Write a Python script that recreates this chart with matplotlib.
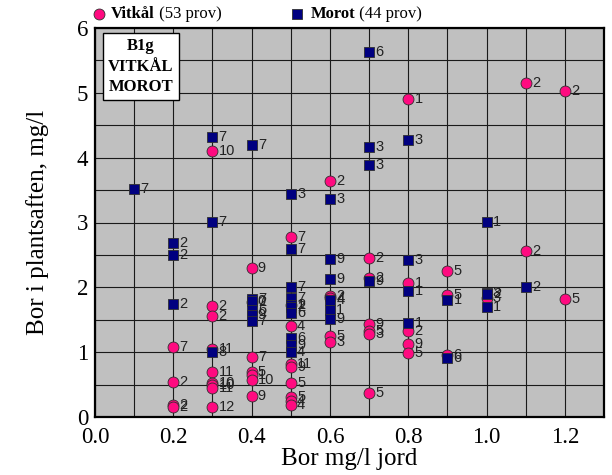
import matplotlib
matplotlib.use('Agg')
import matplotlib.pyplot as plt

# Vitkål (pink circles): bor i jord, bor i plantsaften, label
vit_x = [0.2, 0.2, 0.2, 0.2,
         0.3, 0.3, 0.3, 0.3, 0.3, 0.3, 0.3, 0.3, 0.3,
         0.4, 0.4, 0.4, 0.4, 0.4, 0.4, 0.4,
         0.5, 0.5, 0.5, 0.5, 0.5, 0.5, 0.5, 0.5, 0.5,
         0.6, 0.6, 0.6, 0.6, 0.6,
         0.7, 0.7, 0.7, 0.7, 0.7, 0.7,
         0.8, 0.8, 0.8, 0.8, 0.8,
         0.9, 0.9, 0.9,
         1.0,
         1.1, 1.1,
         1.2, 1.2]
vit_y = [1.08, 0.54, 0.19, 0.16,
         4.10, 1.71, 1.56, 1.05, 0.69, 0.53, 0.49, 0.45, 0.15,
         2.30, 1.78, 0.93, 0.70, 0.65, 0.57, 0.32,
         2.78, 1.73, 1.40, 0.82, 0.77, 0.52, 0.31, 0.24, 0.18,
         3.64, 1.87, 1.84, 1.25, 1.16,
         2.45, 2.15, 1.43, 1.32, 1.28, 0.37,
         4.90, 2.07, 1.33, 1.13, 0.99,
         2.25, 1.88, 0.95,
         1.83,
         5.15, 2.56,
         5.03, 1.82]
vit_lab = ['7', '2', '2', '2',
           '10', '2', '2', '11', '11', '10', '10', '11', '12',
           '9', '2', '7', '5', '1', '10', '9',
           '7', '2', '4', '11', '9', '5', '5', '4', '4',
           '2', '2', '4', '5', '3',
           '2', '2', '9', '5', '3', '5',
           '1', '1', '2', '9', '5',
           '5', '5', '6',
           '3',
           '2', '2',
           '2', '5']

# Morot (blue squares)
mor_x = [0.1,
         0.2, 0.2, 0.2,
         0.3, 0.3, 0.3,
         0.4, 0.4, 0.4, 0.4, 0.4, 0.4,
         0.5, 0.5, 0.5, 0.5, 0.5, 0.5, 0.5, 0.5, 0.5, 0.5,
         0.6, 0.6, 0.6, 0.6, 0.6, 0.6,
         0.7, 0.7, 0.7, 0.7,
         0.8, 0.8, 0.8, 0.8,
         0.9, 0.9,
         1.0, 1.0, 1.0, 1.0,
         1.1]
mor_y = [3.52,
         2.68, 2.50, 1.75,
         4.32, 3.01, 1.01,
         4.20, 1.82, 1.79, 1.65, 1.58, 1.48,
         3.44, 2.59, 2.00, 1.83, 1.72, 1.69, 1.60, 1.22, 1.11, 1.00,
         3.36, 2.44, 2.13, 1.80, 1.65, 1.51,
         5.63, 4.17, 3.89, 2.10,
         4.27, 2.42, 1.95, 1.45,
         1.80, 0.91,
         3.01, 1.91, 1.89, 1.70,
         2.01]
mor_lab = ['7',
           '2', '2', '2',
           '7', '7', '8',
           '7', '7', '0', '6', '9', '7',
           '3', '7', '7', '7', '1', '2', '6', '6', '9', '4',
           '3', '9', '9', '4', '1', '9',
           '6', '3', '3', '9',
           '3', '3', '1', '1',
           '1', '6',
           '1', '3', '2', '1',
           '2']

x_ticks = [0.0, 0.2, 0.4, 0.6, 0.8, 1.0, 1.2]
y_ticks = [0, 1, 2, 3, 4, 5, 6]

pink = '#ff0a80'
navy = '#000080'
serif = 'Liberation Serif'
sans = 'Liberation Sans'

fig = plt.figure(figsize=(6.12, 4.75), dpi=100)
ax = fig.add_axes([95/612, 58/475, 509/612, 389/475])
ax.set_facecolor('#c0c0c0')

# grid every 0.1 / 0.5
ax.set_xlim(0, 1.3)
ax.set_ylim(0, 6)
ax.set_xticks([i/10 for i in range(14)], minor=True)
ax.set_yticks([i/2 for i in range(13)], minor=True)
ax.set_xticks(x_ticks)
ax.set_yticks(y_ticks)
ax.set_xticklabels(['%.1f' % v for v in x_ticks], fontfamily=serif, fontsize=16.5)
ax.set_yticklabels([str(v) for v in y_ticks], fontfamily=serif, fontsize=16.5)
ax.grid(True, which='both', color='#1a1a1a', lw=0.8)
ax.set_axisbelow(True)
ax.tick_params(which='both', length=0)
ax.tick_params(axis='x', pad=7)
ax.tick_params(axis='y', pad=5)
for s in ax.spines.values():
    s.set_linewidth(1.6)
    s.set_color('black')

ax.scatter(vit_x, vit_y, s=62, marker='o', color=pink, edgecolors='#303030',
           linewidths=0.6, zorder=3)
for x, y, t in zip(vit_x, vit_y, vit_lab):
    ax.annotate(t, (x, y), xytext=(4.5, 0), textcoords='offset points',
                va='center', ha='left', fontsize=10.5, fontfamily=sans,
                color='#222222', zorder=4)

ax.scatter(mor_x, mor_y, s=48, marker='s', color=navy, edgecolors='#303030',
           linewidths=0.6, zorder=5)
for x, y, t in zip(mor_x, mor_y, mor_lab):
    ax.annotate(t, (x, y), xytext=(4.5, 0), textcoords='offset points',
                va='center', ha='left', fontsize=10.5, fontfamily=sans,
                color='#222222', zorder=6)

ax.set_xlabel('Bor mg/l jord', fontfamily=serif, fontsize=18, labelpad=0)
ax.set_ylabel('Bor i plantsaften, mg/l', fontfamily=serif, fontsize=18, labelpad=20)

# legend above the plot
ax.scatter([0.008], [1.036], s=62, marker='o', color=pink, edgecolors='#303030',
           linewidths=0.6, transform=ax.transAxes, clip_on=False)
t1 = ax.text(0.031, 1.036, 'Vitkål', transform=ax.transAxes, va='center',
             fontfamily=serif, fontsize=12, fontweight='bold')
ax.annotate(' (53 prov)', xy=(1, 0.5), xycoords=t1, va='center',
            fontfamily=serif, fontsize=12)
ax.scatter([0.397], [1.036], s=48, marker='s', color=navy, edgecolors='#303030',
           linewidths=0.6, transform=ax.transAxes, clip_on=False)
t2 = ax.text(0.424, 1.036, 'Morot', transform=ax.transAxes, va='center',
             fontfamily=serif, fontsize=12, fontweight='bold')
ax.annotate(' (44 prov)', xy=(1, 0.5), xycoords=t2, va='center',
            fontfamily=serif, fontsize=12)

# info box
ax.text(0.09, 0.975, 'B1g\nVITKÅL\nMOROT', transform=ax.transAxes,
        ha='center', va='top', multialignment='center', fontfamily=serif,
        fontsize=12, fontweight='bold', linespacing=1.4, zorder=7,
        bbox=dict(boxstyle='square,pad=0.3', facecolor='white',
                  edgecolor='black', lw=1.0))

fig.savefig('out.png', dpi=100)
